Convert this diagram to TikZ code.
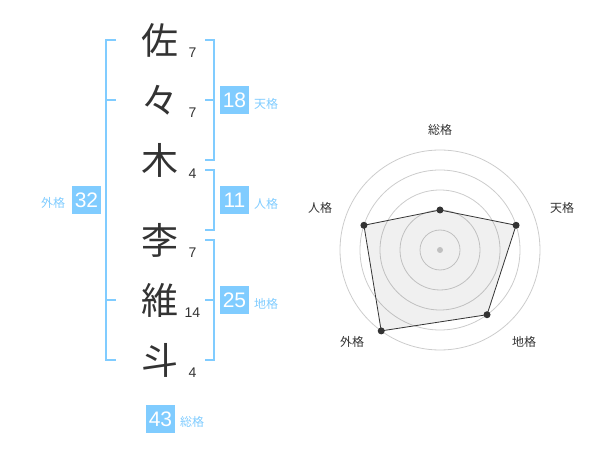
\documentclass[tikz,border=0pt]{standalone}
\usepackage{fontspec}
\setmainfont{Liberation Sans}
\newfontfamily\jp{Noto Sans CJK JP}
\definecolor{kakuBlue}{HTML}{80CCFF}
\definecolor{charGray}{HTML}{333333}
\definecolor{ringGray}{HTML}{CCCCCC}

\begin{document}
\begin{tikzpicture}
        [x=1pt, y=-1pt,
        kanji/.style={font=\jp\fontsize{37}{37}\selectfont, text=charGray, inner sep=0pt, text height=32.6pt, text depth=4.4pt},
        strokeNum/.style={font=\fontsize{14}{14}\selectfont, text=charGray, inner sep=0pt},
        kakuBox/.style={fill=kakuBlue, text=white, minimum width=29pt, minimum height=28pt, inner sep=0pt, font=\fontsize{21}{21}\selectfont},
        kakuName/.style={text=kakuBlue, font=\jp\fontsize{12}{12}\selectfont, inner sep=0pt},
        bracket/.style={draw=kakuBlue, line width=2pt},
        ring/.style={draw=ringGray, line width=0.8pt},
        axisName/.style={text=charGray, font=\jp\fontsize{12}{12}\selectfont, inner sep=0pt},
        dot/.style={circle, fill=charGray, inner sep=0pt, minimum size=7pt}]
        \useasboundingbox (0,0) rectangle (600,470);

        \node[kanji] (K1) at (160,40) {佐};
        \node[kanji] (K2) at (160,100) {々};
        \node[kanji] (K3) at (160,160) {木};
        \node[kanji] (K4) at (160,240) {李};
        \node[kanji] (K5) at (160,300) {維};
        \node[kanji] (K6) at (160,360) {斗};

        \node[strokeNum] (S1) at (192.5,53) {7};
        \node[strokeNum] (S2) at (192.5,113) {7};
        \node[strokeNum] (S3) at (192.5,174) {4};
        \node[strokeNum] (S4) at (192.5,253) {7};
        \node[strokeNum] (S5) at (192.5,313) {14};
        \node[strokeNum] (S6) at (192.5,373) {4};

        % outer bracket
        \draw[bracket] (116,40) -- (106,40) -- (106,360) -- (116,360);
        \draw[bracket] (106,100) -- (116,100);
        \draw[bracket] (106,300) -- (116,300);

        \draw[bracket] (205,40) -- (214,40) -- (214,160) -- (205,160);
        \draw[bracket] (214,100) -- (205,100);
        \draw[bracket] (205,170) -- (214,170) -- (214,230) -- (205,230);
        \draw[bracket] (205,240) -- (214,240) -- (214,360) -- (205,360);
        \draw[bracket] (214,300) -- (205,300);

        \node[kakuBox] (gaiBox) at (86.5,200) {32};
        \node[kakuBox] (tenBox) at (234.5,100) {18};
        \node[kakuBox] (jinBox) at (234.5,200) {11};
        \node[kakuBox] (chiBox) at (234.5,300) {25};
        \node[kakuBox] (souBox) at (160.5,419) {43};

        \node[kakuName] (gaiName) at (53,203) {外格};
        \node[kakuName] (tenName) at (266,104) {天格};
        \node[kakuName] (jinName) at (266,204) {人格};
        \node[kakuName] (chiName) at (266,304) {地格};
        \node[kakuName] (souName) at (192,422) {総格};

        % radar
        \begin{scope}[shift={(440,250)}, yscale=-1]
            \foreach \r in {20,40,...,100}
                \draw[ring] (0,0) circle (\r);
            \fill[ringGray] (0,0) circle (3);
            \coordinate (sou) at (90:40);
            \coordinate (ten) at (18:80);
            \coordinate (chi) at (-54:80);
            \coordinate (gai) at (-126:100);
            \coordinate (jin) at (162:80);
            \draw[fill=black, fill opacity=0.06, draw=charGray, line width=0.8pt] (sou) -- (ten) -- (chi) -- (gai) -- (jin) -- cycle;
            \foreach \p in {sou,ten,chi,gai,jin}
                \node[dot] at (\p) {};
        \end{scope}

        \node[axisName] (souAxis) at (440,130) {総格};
        \node[axisName] (tenAxis) at (562,208) {天格};
        \node[axisName] (chiAxis) at (524,342) {地格};
        \node[axisName] (gaiAxis) at (352,342) {外格};
        \node[axisName] (jinAxis) at (320,208) {人格};
    \end{tikzpicture}
\end{document}
